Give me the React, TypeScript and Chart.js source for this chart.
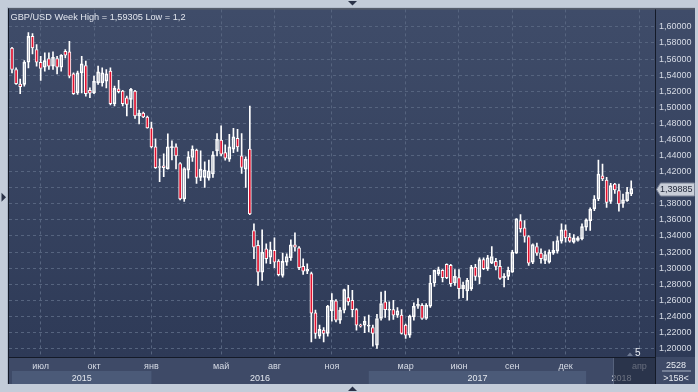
import React, { useEffect, useRef } from 'react';
import { Chart, registerables } from 'chart.js';

Chart.register(...registerables);

// Weekly GBP/USD candles (index 0 = first visible week)
const opens = [
  1.5737, 1.5470, 1.5288, 1.5284, 1.5560, 1.5882, 1.5718, 1.5560, 1.5498, 1.5606,
  1.5511, 1.5606, 1.5498, 1.5697, 1.5688, 1.5415, 1.5180, 1.5428, 1.5520, 1.5210,
  1.5180, 1.5304, 1.5304, 1.5325, 1.5449, 1.5044, 1.5230, 1.5201, 1.5118, 1.5098,
  1.5201, 1.4892, 1.4929, 1.4879, 1.4743, 1.4508, 1.4251, 1.4272, 1.4235, 1.4499,
  1.4508, 1.4301, 1.3860, 1.4219, 1.4375, 1.4467, 1.4128, 1.4128, 1.4120, 1.4170,
  1.4458, 1.4591, 1.4437, 1.4355, 1.4479, 1.4615, 1.4396, 1.4232, 1.4479, 1.3468,
  1.3282, 1.2951, 1.3241, 1.3137, 1.3220, 1.3087, 1.2910, 1.3075, 1.3129, 1.3290,
  1.3253, 1.3022, 1.2963, 1.2931, 1.2443, 1.2155, 1.2229, 1.2188, 1.2468, 1.2592,
  1.2353, 1.2477, 1.2634, 1.2601, 1.2485, 1.2291, 1.2291, 1.2279, 1.2262, 1.2043,
  1.2374, 1.2580, 1.2477, 1.2485, 1.2415, 1.2415, 1.2291, 1.2167, 1.2394, 1.2526,
  1.2539, 1.2374, 1.2526, 1.2815, 1.2931, 1.2972, 1.3046, 1.3034, 1.2815, 1.2882,
  1.2745, 1.2716, 1.2745, 1.3013, 1.2889, 1.3105, 1.2993, 1.3063, 1.3084, 1.3022,
  1.2882, 1.2898, 1.2951, 1.3186, 1.3591, 1.3501, 1.3393, 1.3075, 1.3269, 1.3186,
  1.3096, 1.3075, 1.3186, 1.3211, 1.3335, 1.3476, 1.3385, 1.3323, 1.3344, 1.3365,
  1.3508, 1.3591, 1.3736, 1.3860, 1.4149, 1.4095, 1.3830, 1.4046, 1.3963, 1.3806,
  1.3839, 1.3922,
];
const highs = [
  1.5746, 1.5490, 1.5350, 1.5581, 1.5930, 1.5916, 1.5780, 1.5635, 1.5676, 1.5676,
  1.5688, 1.5635, 1.5656, 1.5718, 1.5820, 1.5428, 1.5449, 1.5635, 1.5573, 1.5242,
  1.5387, 1.5511, 1.5490, 1.5470, 1.5490, 1.5263, 1.5334, 1.5210, 1.5139, 1.5235,
  1.5210, 1.4966, 1.4941, 1.4892, 1.4817, 1.4607, 1.4359, 1.4421, 1.4669, 1.4582,
  1.4545, 1.4313, 1.4251, 1.4450, 1.4520, 1.4479, 1.4458, 1.4322, 1.4343, 1.4450,
  1.4672, 1.4768, 1.4533, 1.4665, 1.4739, 1.4727, 1.4672, 1.4384, 1.5016, 1.3551,
  1.3344, 1.3476, 1.3303, 1.3323, 1.3377, 1.3105, 1.3186, 1.3179, 1.3352, 1.3439,
  1.3269, 1.3117, 1.3055, 1.2951, 1.2477, 1.2291, 1.2262, 1.2539, 1.2684, 1.2609,
  1.2510, 1.2740, 1.2786, 1.2724, 1.2498, 1.2303, 1.2394, 1.2415, 1.2291, 1.2427,
  1.2703, 1.2716, 1.2580, 1.2601, 1.2510, 1.2485, 1.2303, 1.2415, 1.2567, 1.2622,
  1.2560, 1.2560, 1.2910, 1.2975, 1.3013, 1.2981, 1.3055, 1.3046, 1.2981, 1.2981,
  1.2827, 1.2873, 1.3034, 1.3046, 1.3129, 1.3129, 1.3158, 1.3269, 1.3121, 1.3096,
  1.2931, 1.3013, 1.3220, 1.3616, 1.3666, 1.3591, 1.3406, 1.3303, 1.3310, 1.3241,
  1.3211, 1.3229, 1.3331, 1.3393, 1.3551, 1.3538, 1.3434, 1.3418, 1.3393, 1.3551,
  1.3612, 1.3749, 1.3901, 1.4343, 1.4293, 1.4128, 1.4053, 1.4053, 1.4046, 1.3922,
  1.4004, 1.4087,
];
const lows = [
  1.5428, 1.5284, 1.5168, 1.5263, 1.5490, 1.5663, 1.5511, 1.5334, 1.5449, 1.5470,
  1.5470, 1.5415, 1.5449, 1.5614, 1.5366, 1.5160, 1.5160, 1.5180, 1.5139, 1.5118,
  1.5168, 1.5284, 1.5263, 1.5242, 1.5028, 1.5016, 1.5180, 1.5016, 1.4892, 1.4994,
  1.4863, 1.4793, 1.4871, 1.4739, 1.4495, 1.4240, 1.4074, 1.4136, 1.4230, 1.4347,
  1.4235, 1.3848, 1.3830, 1.4120, 1.4326, 1.4053, 1.4087, 1.4004, 1.4095, 1.4128,
  1.4396, 1.4396, 1.4343, 1.4326, 1.4437, 1.4450, 1.4177, 1.4004, 1.3666, 1.3117,
  1.2786, 1.2848, 1.3063, 1.3055, 1.3006, 1.2902, 1.2889, 1.3034, 1.3096, 1.3211,
  1.2981, 1.2923, 1.2931, 1.2084, 1.2126, 1.2126, 1.2084, 1.2155, 1.2341, 1.2332,
  1.2312, 1.2443, 1.2539, 1.2394, 1.2229, 1.2266, 1.2196, 1.2208, 1.2031, 1.2002,
  1.2353, 1.2386, 1.2353, 1.2362, 1.2386, 1.2180, 1.2126, 1.2139, 1.2353, 1.2498,
  1.2362, 1.2362, 1.2510, 1.2774, 1.2910, 1.2827, 1.2869, 1.2774, 1.2786, 1.2622,
  1.2634, 1.2601, 1.2724, 1.2848, 1.2807, 1.2981, 1.2972, 1.3055, 1.2978, 1.2861,
  1.2765, 1.2857, 1.2947, 1.3183, 1.3446, 1.3323, 1.3034, 1.3055, 1.3158, 1.3063,
  1.3055, 1.3063, 1.3170, 1.3186, 1.3310, 1.3323, 1.3323, 1.3310, 1.3335, 1.3352,
  1.3468, 1.3468, 1.3715, 1.3839, 1.4087, 1.3756, 1.3806, 1.3929, 1.3707, 1.3756,
  1.3830, 1.3901,
];
const closes = [
  1.5470, 1.5292, 1.5257, 1.5560, 1.5882, 1.5737, 1.5560, 1.5482, 1.5581, 1.5511,
  1.5622, 1.5498, 1.5647, 1.5647, 1.5387, 1.5168, 1.5428, 1.5539, 1.5168, 1.5176,
  1.5325, 1.5440, 1.5428, 1.5415, 1.5044, 1.5235, 1.5193, 1.5044, 1.5037, 1.5222,
  1.4892, 1.4929, 1.4879, 1.4743, 1.4508, 1.4248, 1.4264, 1.4248, 1.4508, 1.4511,
  1.4396, 1.3860, 1.4239, 1.4384, 1.4479, 1.4128, 1.4232, 1.4219, 1.4211, 1.4409,
  1.4603, 1.4417, 1.4368, 1.4508, 1.4632, 1.4508, 1.4251, 1.4355, 1.3674, 1.3261,
  1.2951, 1.3199, 1.3117, 1.3229, 1.3075, 1.2919, 1.3084, 1.3145, 1.3290, 1.3261,
  1.3006, 1.2963, 1.2985, 1.2440, 1.2188, 1.2238, 1.2188, 1.2526, 1.2601, 1.2353,
  1.2477, 1.2733, 1.2580, 1.2485, 1.2291, 1.2279, 1.2337, 1.2291, 1.2188, 1.2374,
  1.2560, 1.2485, 1.2489, 1.2415, 1.2468, 1.2188, 1.2167, 1.2403, 1.2526, 1.2551,
  1.2374, 1.2539, 1.2815, 1.2972, 1.2981, 1.2882, 1.2882, 1.2807, 1.2898, 1.2745,
  1.2786, 1.2848, 1.3013, 1.2898, 1.3105, 1.2993, 1.3129, 1.3145, 1.3022, 1.2873,
  1.2898, 1.2972, 1.3199, 1.3612, 1.3489, 1.3393, 1.3063, 1.3294, 1.3186, 1.3117,
  1.3170, 1.3199, 1.3220, 1.3344, 1.3476, 1.3377, 1.3335, 1.3377, 1.3377, 1.3517,
  1.3600, 1.3731, 1.3860, 1.4170, 1.4108, 1.3818, 1.4025, 1.3972, 1.3798, 1.3848,
  1.3942, 1.3989,
];

const monthTickIndex = [7, 20, 34, 51, 64, 78, 96, 109, 122, 135, 153];
const monthLabels = ['июл', 'окт', 'янв', 'май', 'авг', 'ноя', 'мар', 'июн', 'сен', 'дек', 'апр'];
const yearLabels = ['2015', '2016', '2017', '2018'];
const yearStartIndex = [0, 34, 87, 140];
const priceTicks = [
  1.2, 1.22, 1.24, 1.26, 1.28, 1.3, 1.32, 1.34, 1.36, 1.38, 1.4,
  1.42, 1.44, 1.46, 1.48, 1.5, 1.52, 1.54, 1.56, 1.58, 1.6,
];
const lastPrice = 1.39885;
const titleText = 'GBP/USD Week High = 1,59305 Low = 1,2';
const shadeFromIndex = 146.6;
const cornerTop = '2528';
const cornerBottom = '>158<';
const shiftLabel = '5';

const RED = '#e3112f';
const FONT = '"Liberation Sans", Arial, sans-serif';

const fmt = (v: number) => v.toFixed(5).replace('.', ',');

const framePlugin = {
  id: 'frame',
  beforeDraw(chart: any) {
    const { ctx, chartArea: a } = chart;
    const W = chart.width;
    const H = chart.height;
    const panelRight = W - 3;
    const panelBottom = H - 8;
    const xs = chart.scales.x;
    ctx.save();
    ctx.fillStyle = '#c3ccd9';
    ctx.fillRect(0, 0, W, H);
    const g = ctx.createLinearGradient(0, a.top, 0, a.bottom);
    g.addColorStop(0, '#3f4c69');
    g.addColorStop(1, '#2e3a57');
    ctx.fillStyle = g;
    ctx.fillRect(a.left, a.top, panelRight - a.left, a.bottom - a.top);
    ctx.fillStyle = '#3e4a67';
    ctx.fillRect(a.left, a.bottom, panelRight - a.left, panelBottom - a.bottom);
    // year bands
    const bandTop = a.bottom + 14;
    for (let k = 0; k < yearStartIndex.length; k++) {
      if (k % 2 === 1) continue;
      const x0 = xs.getPixelForValue(yearStartIndex[k]);
      const x1 = k + 1 < yearStartIndex.length ? xs.getPixelForValue(yearStartIndex[k + 1]) : a.right;
      ctx.fillStyle = '#4b5a78';
      ctx.fillRect(x0, bandTop, x1 - x0, panelBottom - bandTop);
    }
    // frame lines
    ctx.fillStyle = '#a9b3c3';
    ctx.fillRect(a.left - 2, a.top - 2, panelRight - a.left + 2, 1);
    ctx.fillRect(a.left - 2, a.top - 2, 1, panelBottom - a.top + 2);
    ctx.fillStyle = '#141a28';
    ctx.fillRect(a.left - 1, a.top - 1, panelRight - a.left + 1, 1);
    ctx.fillRect(a.left - 1, a.top - 1, 1, panelBottom - a.top + 1);
    ctx.fillRect(a.right, a.top, 1, panelBottom - a.top);
    ctx.fillRect(a.left, a.bottom, a.right - a.left, 1);
    // small arrows on the outer frame
    ctx.fillStyle = '#2a3248';
    const cx = 352.5;
    ctx.beginPath();
    ctx.moveTo(cx - 4.5, 1); ctx.lineTo(cx + 4.5, 1); ctx.lineTo(cx, 5.5); ctx.closePath(); ctx.fill();
    ctx.beginPath();
    ctx.moveTo(cx - 4.5, H - 1); ctx.lineTo(cx + 4.5, H - 1); ctx.lineTo(cx, H - 5.5); ctx.closePath(); ctx.fill();
    const cy = (a.top + a.bottom) / 2 + 14;
    ctx.beginPath();
    ctx.moveTo(1.5, cy - 4.5); ctx.lineTo(6, cy); ctx.lineTo(1.5, cy + 4.5); ctx.closePath(); ctx.fill();
    ctx.restore();
  },
  afterDraw(chart: any) {
    const { ctx, chartArea: a } = chart;
    const W = chart.width;
    const H = chart.height;
    const panelRight = W - 3;
    const panelBottom = H - 8;
    const xs = chart.scales.x;
    const ys = chart.scales.y;
    ctx.save();
    // title
    ctx.font = `9.2px ${FONT}`;
    ctx.fillStyle = '#e2e6ee';
    ctx.textBaseline = 'alphabetic';
    ctx.textAlign = 'left';
    ctx.fillText(titleText, a.left + 1.5, a.top + 10.5);
    // year labels
    ctx.font = `9px ${FONT}`;
    ctx.fillStyle = '#e4e8ef';
    ctx.textAlign = 'center';
    for (let k = 0; k < yearLabels.length; k++) {
      const x0 = xs.getPixelForValue(yearStartIndex[k]);
      const x1 = k + 1 < yearStartIndex.length ? xs.getPixelForValue(yearStartIndex[k + 1]) : a.right + 2;
      ctx.fillText(yearLabels[k], (x0 + x1) / 2, panelBottom - 3.5);
    }
    // shaded future region on the time axis
    const sx = Math.round(xs.getPixelForValue(shadeFromIndex));
    ctx.fillStyle = 'rgba(30,38,58,0.62)';
    ctx.fillRect(sx, a.bottom + 1, a.right - sx, panelBottom - a.bottom - 1);
    ctx.fillStyle = '#56627c';
    ctx.fillRect(sx, a.bottom + 1, 1, panelBottom - a.bottom - 1);
    // shift marker "5"
    ctx.fillStyle = '#6f7b94';
    ctx.beginPath();
    ctx.moveTo(sx + 14, a.bottom - 1); ctx.lineTo(sx + 20, a.bottom - 1); ctx.lineTo(sx + 17, a.bottom - 4.5); ctx.closePath(); ctx.fill();
    ctx.fillStyle = '#e8ecf2';
    ctx.textAlign = 'left';
    ctx.font = `10px ${FONT}`;
    ctx.fillText(shiftLabel, sx + 22, a.bottom - 1.5);
    // corner info
    ctx.font = `9px ${FONT}`;
    ctx.textAlign = 'center';
    const ccx = (a.right + panelRight) / 2 + 1;
    ctx.fillText(cornerTop, ccx, a.bottom + 10.5);
    ctx.fillText(cornerBottom, ccx, a.bottom + 24);
    ctx.fillStyle = '#aab4c6';
    ctx.fillRect(a.right + 7, a.bottom + 13.5, 29, 1);
    // last price marker
    const py = Math.round(ys.getPixelForValue(lastPrice)) + 0.5;
    const lx = a.right + 1.5;
    ctx.beginPath();
    ctx.moveTo(lx, py);
    ctx.lineTo(lx + 4, py - 6.5);
    ctx.lineTo(panelRight - 0.5, py - 6.5);
    ctx.lineTo(panelRight - 0.5, py + 6.5);
    ctx.lineTo(lx + 4, py + 6.5);
    ctx.closePath();
    ctx.fillStyle = '#c9ced8';
    ctx.fill();
    ctx.strokeStyle = '#7d8598';
    ctx.lineWidth = 1;
    ctx.stroke();
    ctx.fillStyle = '#1f2638';
    ctx.textAlign = 'left';
    ctx.textBaseline = 'middle';
    ctx.font = `9px ${FONT}`;
    ctx.fillText(fmt(lastPrice), lx + 3.5, py + 0.5);
    ctx.restore();
  },
};

export default function App() {
  const ref = useRef<HTMLCanvasElement>(null);
  useEffect(() => {
    document.body.style.margin = '0';
    const idx = opens.map((_, i) => i);
    const bodies = idx.map((i) => ({ x: i, y: [Math.min(opens[i], closes[i]), Math.max(opens[i], closes[i])] }));
    const upper = idx.map((i) => ({ x: i, y: [Math.max(opens[i], closes[i]), highs[i]] }));
    const lower = idx.map((i) => ({ x: i, y: [lows[i], Math.min(opens[i], closes[i])] }));
    const bodyColors = idx.map((i) => (closes[i] < opens[i] ? RED : 'rgba(0,0,0,0)'));
    const chart = new Chart(ref.current as HTMLCanvasElement, {
      type: 'bar',
      data: {
        datasets: [
          {
            data: bodies as any,
            backgroundColor: bodyColors,
            borderColor: '#ffffff',
            borderWidth: 1,
            borderSkipped: false,
            barThickness: 3,
            minBarLength: 1,
            grouped: false,
          } as any,
          {
            data: upper as any,
            backgroundColor: '#ffffff',
            borderWidth: 0,
            barThickness: 1,
            grouped: false,
          } as any,
          {
            data: lower as any,
            backgroundColor: '#ffffff',
            borderWidth: 0,
            barThickness: 1,
            grouped: false,
          } as any,
        ],
      },
      options: {
        animation: false,
        responsive: false,
        maintainAspectRatio: false,
        events: [],
        layout: { padding: { left: 9, top: 8, right: 3, bottom: 8 } },
        plugins: { legend: { display: false }, tooltip: { enabled: false }, title: { display: false } },
        scales: {
          x: {
            type: 'linear',
            offset: false,
            min: -0.73,
            max: 156.8,
            afterBuildTicks: (s: any) => {
              s.ticks = monthTickIndex.map((v) => ({ value: v }));
            },
            afterFit: (s: any) => {
              s.height = 27;
            },
            ticks: {
              autoSkip: false,
              maxRotation: 0,
              padding: 4,
              color: '#d6dbe5',
              font: { family: FONT, size: 9 },
              callback: (_v: any, i: number) => monthLabels[i],
            },
            grid: { color: '#56647f', lineWidth: 1, drawTicks: false, offset: false },
            border: { display: false, dash: [3, 3] },
          },
          y: {
            type: 'linear',
            position: 'right',
            min: 1.1895,
            max: 1.6217,
            afterBuildTicks: (s: any) => {
              s.ticks = priceTicks.map((v) => ({ value: v }));
            },
            afterFit: (s: any) => {
              s.width = 40;
            },
            ticks: {
              padding: 4,
              color: '#d6dbe5',
              font: { family: FONT, size: 9 },
              callback: (v: any) => fmt(Number(v)),
            },
            grid: { color: '#56647f', lineWidth: 1, drawTicks: false },
            border: { display: false, dash: [3, 3] },
          },
        },
      } as any,
      plugins: [framePlugin],
    });
    return () => chart.destroy();
  }, []);
  return (
    <div style={{ width: 698, height: 392 }}>
      <canvas ref={ref} width={698} height={392} style={{ display: 'block', width: 698, height: 392 }} />
    </div>
  );
}
